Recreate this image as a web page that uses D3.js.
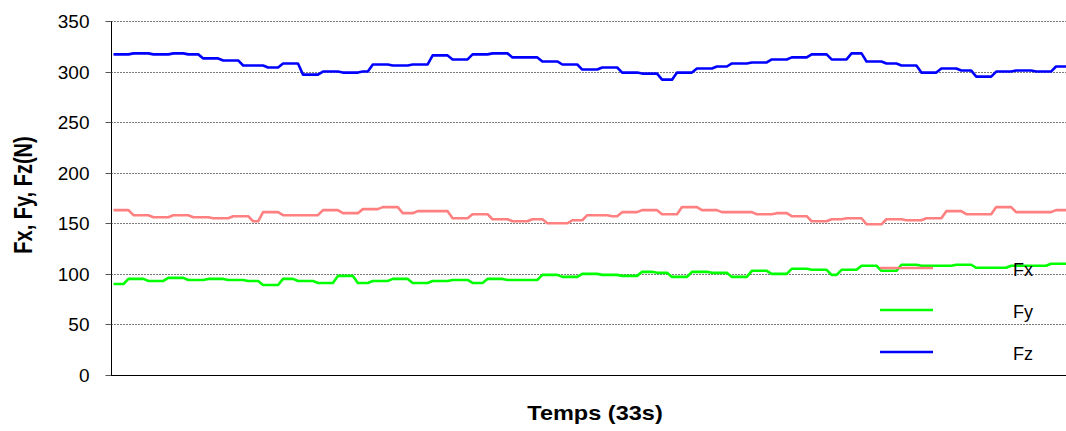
<!DOCTYPE html>
<html>
<head>
<meta charset="utf-8">
<script src="https://cdn.jsdelivr.net/npm/d3@7/dist/d3.min.js"></script>
<style>
  html, body { margin: 0; padding: 0; background: #fff; }
  svg { display: block; font-family: "Liberation Sans", Arial, sans-serif; }
</style>
</head>
<body>
<svg id="chart" width="1066" height="431"></svg>
<script>
// ---- Data ----
const seriesNames = ["Fx", "Fy", "Fz"];
const yTicks = [0, 50, 100, 150, 200, 250, 300, 350];

const fx = [
  163,163,163,163,158,158,158,158,156,156,156,156,158,158,158,158,
  156,156,156,156,155,155,155,155,157,157,157,157,152,152,161,161,
  161,161,158,158,158,158,158,158,158,158,163,163,163,163,160,160,
  160,160,164,164,164,164,166,166,166,166,160,160,160,162,162,162,
  162,162,162,162,155,155,155,155,159,159,159,159,154,154,154,154,
  152,152,152,152,154,154,154,150,150,150,150,150,153,153,153,158,
  158,158,158,158,157,157,161,161,161,161,163,163,163,163,159,159,
  159,159,166,166,166,166,163,163,163,163,161,161,161,161,161,161,
  161,159,159,159,159,160,160,160,157,157,157,157,152,152,152,152,
  154,154,154,155,155,155,155,149,149,149,149,154,154,154,154,153,
  153,153,153,155,155,155,155,162,162,162,162,159,159,159,159,159,
  159,166,166,166,166,161,161,161,161,161,161,161,161,163,163,163
];

const fy = [
  90,90,90,95,95,95,95,93,93,93,93,96,96,96,96,94,
  94,94,94,95,95,95,95,94,94,94,94,93,93,93,89,89,
  89,89,95,95,95,93,93,93,93,91,91,91,91,98,98,98,
  98,91,91,91,93,93,93,93,95,95,95,95,91,91,91,91,
  93,93,93,93,94,94,94,94,91,91,91,95,95,95,95,94,
  94,94,94,94,94,94,99,99,99,99,97,97,97,97,100,100,
  100,100,99,99,99,99,98,98,98,98,102,102,102,101,101,101,
  97,97,97,97,102,102,102,102,101,101,101,101,97,97,97,97,
  103,103,103,103,100,100,100,100,105,105,105,105,104,104,104,104,
  99,99,104,104,104,104,108,108,108,108,103,103,103,103,109,109,
  109,109,108,108,108,108,108,108,108,109,109,109,109,106,106,106,
  106,106,106,106,108,108,108,108,108,108,108,108,110,110,110,110
];

const fz = [
  317,317,317,317,318,318,318,318,317,317,317,317,318,318,318,317,
  317,317,313,313,313,313,311,311,311,311,306,306,306,306,306,304,
  304,304,308,308,308,308,297,297,297,297,300,300,300,300,299,299,
  299,299,300,300,307,307,307,307,306,306,306,306,307,307,307,307,
  316,316,316,316,312,312,312,312,317,317,317,317,318,318,318,318,
  314,314,314,314,314,314,310,310,310,310,307,307,307,307,302,302,
  302,302,304,304,304,304,299,299,299,299,298,298,298,298,292,292,
  292,299,299,299,299,303,303,303,303,305,305,305,308,308,308,308,
  309,309,309,309,312,312,312,312,314,314,314,314,317,317,317,317,
  312,312,312,312,318,318,318,310,310,310,310,308,308,308,306,306,
  306,306,299,299,299,299,303,303,303,303,301,301,301,295,295,295,
  295,300,300,300,300,301,301,301,301,300,300,300,300,305,305,305
];

const colors = ["#FF8080", "#00FF00", "#0000FF"];
const allSeries = [fx, fy, fz];

// ---- Layout ----
const svg = d3.select("#chart");
const W = 1066, H = 431;
const plot = { left: 111, right: 1066, top: 21, bottom: 375 };

svg.append("rect").attr("width", W).attr("height", H).attr("fill", "#fff");

const x = d3.scaleLinear().domain([0, fx.length - 1]).range([113.5, 1066]);
const y = d3.scaleLinear().domain([0, 350]).range([plot.bottom, plot.top]);

// clip
svg.append("defs").append("clipPath").attr("id", "clip")
  .append("rect").attr("x", plot.left).attr("y", 0).attr("width", plot.right - plot.left).attr("height", plot.bottom + 2);

// gridlines
svg.append("g").selectAll("line").data(yTicks.filter(d => d > 0)).join("line")
  .attr("x1", plot.left).attr("x2", plot.right)
  .attr("y1", d => Math.round(y(d)) + 0.5).attr("y2", d => Math.round(y(d)) + 0.5)
  .attr("stroke", "#7a7a7a").attr("stroke-width", 1).attr("stroke-dasharray", "2,1");

// y axis
const yAxis = d3.axisLeft(y).tickValues(yTicks).tickSize(6).tickPadding(16).tickFormat(d3.format("d"));
const gy = svg.append("g").attr("transform", `translate(${plot.left + 0.5},0)`).call(yAxis);
gy.select(".domain").attr("stroke", "#000").attr("d", `M0,${plot.top}V${plot.bottom}`);
gy.selectAll(".tick line").attr("stroke", "#555");
gy.selectAll(".tick").attr("transform", d => `translate(0,${Math.round(y(d)) + 0.5})`);
gy.selectAll(".tick text").attr("font-size", 19).attr("fill", "#000")
  .attr("font-family", "Liberation Sans, Arial, sans-serif").attr("dy", "0.35em");

// x axis line
svg.append("line").attr("x1", plot.left).attr("x2", plot.right)
  .attr("y1", plot.bottom + 0.5).attr("y2", plot.bottom + 0.5)
  .attr("stroke", "#000").attr("stroke-width", 1);

// legend (drawn before series)
const legendY = [268, 310, 352];
const lg = svg.append("g");
seriesNames.forEach((name, i) => {
  lg.append("line").attr("x1", 880).attr("x2", 933)
    .attr("y1", legendY[i]).attr("y2", legendY[i])
    .attr("stroke", colors[i]).attr("stroke-width", 2.5);
});

// series
const line = d3.line().x((d, i) => x(i)).y(d => y(d)).curve(d3.curveLinear);
const gs = svg.append("g").attr("clip-path", "url(#clip)");
allSeries.forEach((s, i) => {
  gs.append("path").datum(s).attr("d", line)
    .attr("fill", "none").attr("stroke", colors[i]).attr("stroke-width", 2.6)
    .attr("stroke-linejoin", "round");
});

// legend labels
seriesNames.forEach((name, i) => {
  lg.append("text").attr("x", 1013).attr("y", legendY[i] + 8)
    .attr("font-size", 18).attr("fill", "#000").text(name);
});
svg.node().appendChild(lg.node());

// axis titles
svg.append("text").attr("transform", "translate(595,420) scale(1.12,1)")
  .attr("text-anchor", "middle").attr("font-size", 21).attr("font-weight", "bold")
  .attr("fill", "#000").text("Temps (33s)");

svg.append("text").attr("transform", "translate(32,195) scale(1.25,1) rotate(-90)")
  .attr("text-anchor", "middle").attr("font-size", 20).attr("font-weight", "bold")
  .attr("fill", "#000").text("Fx, Fy, Fz(N)");
</script>
</body>
</html>
